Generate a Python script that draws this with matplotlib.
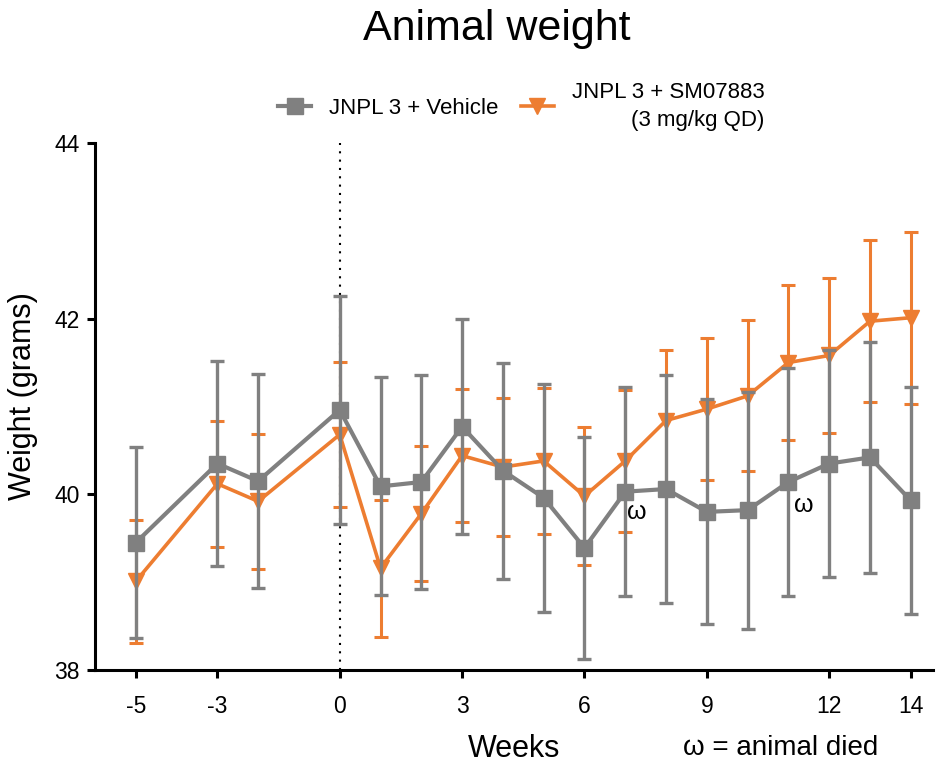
import matplotlib
matplotlib.use("Agg")
import matplotlib.pyplot as plt

# weeks relative to start of treatment
weeks = [-5, -3, -2, 0, 1, 2, 3, 4, 5, 6, 7, 8, 9, 10, 11, 12, 13, 14]
week_ticks = [-5, -3, 0, 3, 6, 9, 12, 14]

vehicle_mean = [39.45, 40.35, 40.15, 40.96, 40.09, 40.14, 40.77, 40.27, 39.96,
                39.39, 40.03, 40.06, 39.80, 39.82, 40.14, 40.35, 40.42, 39.93]
vehicle_sd = [1.09, 1.17, 1.22, 1.30, 1.24, 1.22, 1.22, 1.23, 1.30,
              1.26, 1.19, 1.30, 1.28, 1.35, 1.30, 1.29, 1.31, 1.29]

sm_mean = [39.01, 40.12, 39.92, 40.68, 39.16, 39.78, 40.44, 40.31, 40.38,
           39.98, 40.38, 40.84, 40.97, 41.12, 41.50, 41.58, 41.97, 42.01]
sm_sd = [0.70, 0.72, 0.77, 0.83, 0.78, 0.77, 0.76, 0.79, 0.83,
         0.79, 0.81, 0.80, 0.81, 0.86, 0.88, 0.88, 0.92, 0.98]

# weeks where an animal died (vehicle group)
died_weeks = [7.28, 11.37]
died_y = [39.80, 39.88]

gray = "#808080"
orange = "#ED7D31"

plt.rcParams['font.family'] = ['Liberation Sans', 'DejaVu Sans']
plt.rcParams['axes.unicode_minus'] = False

fig = plt.figure(figsize=(9.36, 7.64), dpi=100)
ax = fig.add_axes([0.1015, 0.123, 0.8955, 0.690])

ax.axvline(0, color="black", ls=(0, (1, 3)), lw=1.5, zorder=1)

ax.errorbar(weeks, sm_mean, yerr=sm_sd, color=orange, lw=2.6, marker="v",
            ms=12, elinewidth=2.2, capsize=5, capthick=2.2, zorder=2,
            label="JNPL 3 + SM07883\n(3 mg/kg QD)")
ax.errorbar(weeks, vehicle_mean, yerr=vehicle_sd, color=gray, lw=3, marker="s",
            ms=11, elinewidth=2.4, capsize=5, capthick=2.4, zorder=3,
            label="JNPL 3 + Vehicle")

for wx, wy in zip(died_weeks, died_y):
    ax.text(wx, wy, "ω", fontsize=18, ha="center", va="center", zorder=4)

ax.set_xlim(-6, 14.55)
ax.set_ylim(38, 44)
ax.set_xticks(week_ticks)
ax.set_yticks([38, 40, 42, 44])

for s in ["top", "right"]:
    ax.spines[s].set_visible(False)
for s in ["left", "bottom"]:
    ax.spines[s].set_linewidth(2.2)

ax.tick_params(axis="both", direction="out", length=6, width=2.2, labelsize=16.5)
ax.tick_params(axis="x", pad=12)
ax.tick_params(axis="y", pad=5)

ax.set_xlabel("Weeks", fontsize=22)
ax.xaxis.set_label_coords(0.5, -0.122)
ax.set_ylabel("Weight (grams)", fontsize=22)
ax.yaxis.set_label_coords(-0.068, 0.52)

fig.text(683 / 936, 1 - 748 / 764, "ω = animal died", fontsize=20, ha="left", va="center")
fig.text(497 / 936, 1 - 29 / 764, "Animal weight", fontsize=31, ha="center", va="center")

handles, labels = ax.get_legend_handles_labels()
handles = [h[0] for h in handles][::-1]
labels = labels[::-1]
leg = fig.legend(handles, labels, loc="center", bbox_to_anchor=(0.557, 0.861),
                 ncol=2, frameon=False, fontsize=16, handlelength=1.5,
                 handletextpad=0.8, columnspacing=1.0)
leg.get_texts()[1].set_multialignment("right")
leg.get_texts()[1].set_linespacing(1.45)

fig.savefig("out.png", dpi=100)
plt.close(fig)
